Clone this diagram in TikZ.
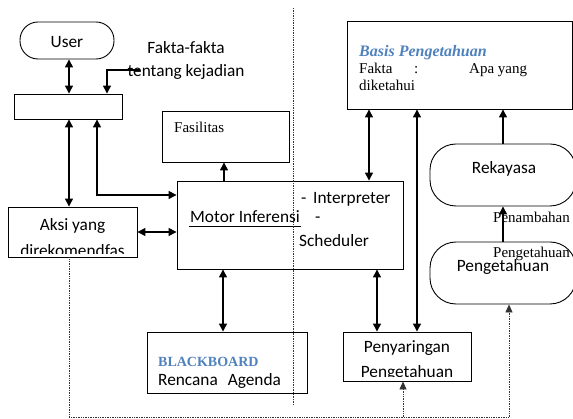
\documentclass[tikz,border=0pt]{standalone}
\usepackage{fontspec}
\setmainfont{Liberation Serif}
\newfontfamily\calib{Carlito}
\usetikzlibrary{arrows.meta,calc}
\definecolor{hblue}{HTML}{4F81BD}
\begin{document}
\begin{tikzpicture}[x=1pt,y=-1pt,
  box/.style={draw,line width=0.9pt,inner sep=0pt},
  pill/.style={draw,line width=0.9pt,inner sep=0pt,rounded corners=20pt},
  arr/.style={line width=1.3pt,-{Triangle[length=8pt,width=8pt]}},
  dbl/.style={line width=1.3pt,{Triangle[length=8pt,width=8pt]}-{Triangle[length=8pt,width=8pt]}},
  dot/.style={line width=0.7pt,densely dotted,black!80},
  dotarr/.style={dot,-{Triangle[length=8pt,width=7pt]}},
  sans/.style={font=\calib\fontsize{17.3}{19}\selectfont,inner sep=0pt},
  serif/.style={font=\fontsize{15}{17}\selectfont,inner sep=0pt}]
\useasboundingbox (0,0) rectangle (573,419);

% boxes
\node[pill,minimum width=94pt,minimum height=37pt,rounded corners=18pt] (user) at (67,40.5) {};
\node[box,minimum width=108pt,minimum height=25pt] (mid) at (68,106.5) {};
\node[box,minimum width=127pt,minimum height=51pt] (fas) at (225.5,136.5) {};
\node[box,minimum width=226pt,minimum height=88pt] (motor) at (290,225) {};
\node[box,minimum width=129pt,minimum height=50pt] (aksi) at (72.5,232) {};
\node[box,minimum width=160pt,minimum height=61pt] (bb) at (227,362.5) {};
\node[box,minimum width=128pt,minimum height=49pt] (peny) at (407,356.5) {};
\node[box,minimum width=225pt,minimum height=88pt] (basis) at (459.5,65) {};
\node[pill,minimum width=146pt,minimum height=62pt,rounded corners=26pt] (rek) at (503,175) {};
\node[pill,minimum width=146pt,minimum height=62pt,rounded corners=26pt] (peng) at (503,273) {};

% texts
\node[sans,anchor=base] (tuser) at (67,48) {User};
\node[sans,anchor=base] (tf1) at (186,54) {Fakta-fakta};
\node[sans,anchor=base] (tf2) at (186,77) {tentang kejadian};
\node[serif,anchor=base west] (tfas) at (174,133) {Fasilitas};
\node[sans,anchor=base] (taksi1) at (72.5,231) {Aksi yang};
\begin{scope}
  \clip (9,208) rectangle (136,254);
  \node[sans,anchor=base] (taksi2) at (72.5,257) {direkomendfas};
\end{scope}
\node[sans,anchor=base west] (tmotor) at (190,223) {Motor Inferensi};
\draw[line width=0.8pt] (189,226.5) -- (301,226.5);
\node[sans,anchor=base west] (td1) at (301,204) {-};
\node[sans,anchor=base west] (tint) at (313,204) {Interpreter};
\node[sans,anchor=base west] (td2) at (315,223) {-};
\node[sans,anchor=base west] (tsch) at (299,247) {Scheduler};
\node[font=\bfseries\fontsize{14}{16}\selectfont,text=hblue,inner sep=0pt,anchor=base west] (tbb) at (158,367) {BLACKBOARD};
\begin{scope}
  \clip (148,333) rectangle (306,388.5);
  \node[sans,anchor=base west] (trenc) at (158,386) {Rencana\hspace{10pt}Agenda};
\end{scope}
\node[sans,anchor=base] (tpeny1) at (407,353) {Penyaringan};
\begin{scope}
  \clip (344,333) rectangle (470,376.5);
  \node[sans,anchor=base] (tpeny2) at (407,378) {Pengetahuan};
\end{scope}
\node[font=\bfseries\itshape\fontsize{16}{18}\selectfont,text=hblue,inner sep=0pt,anchor=base west] (tbasis) at (359,57) {Basis Pengetahuan};
\node[serif,anchor=base west] (tfk) at (359,74) {Fakta};
\node[serif,anchor=base west] (tcol) at (414,74) {:};
\node[serif,anchor=base west] (tapa) at (469,74) {Apa yang};
\node[serif,anchor=base west] (tdik) at (359,91) {diketahui};
\node[sans,anchor=base] (trek) at (504,174) {Rekayasa};
\node[sans,anchor=base] (tpeng) at (503,272) {Pengetahuan};
\node[serif,anchor=base west] (tpen1) at (493,223) {Penambahan};
\node[serif,anchor=base west] (tpen2) at (493,258) {Pengetahuan};

% coordinates
\coordinate (fk0) at (140,70);
\coordinate (fk1) at (107,70);
\coordinate (m97) at (97,195);
\coordinate (d1) at (69,417);
\coordinate (d2) at (509,417);
\coordinate (d3) at (403,417);
\coordinate (v1) at (293,8);
\coordinate (v2) at (293,405);

% connectors
\draw[dbl] ([xshift=2pt]user.south) -- ([xshift=2pt]user.south |- mid.north);
\draw[arr] (fk0) -- (fk1) -- (fk1 |- mid.north);
\draw[dbl] ([xshift=1pt]mid.south) -- ([xshift=1pt]mid.south |- aksi.north);
\draw[dbl] ([xshift=29pt]mid.south) |- (m97 -| motor.west);
\draw[arr] ([xshift=-1.5pt]fas.south |- motor.north) -- ([xshift=-1.5pt]fas.south);
\draw[dbl] (aksi.east) -- (aksi.east -| motor.west);
\draw[dbl] ([xshift=-4pt]bb.north |- motor.south) -- ([xshift=-4pt]bb.north);
\draw[dbl] ([xshift=-30pt]peny.north |- motor.south) -- ([xshift=-30pt]peny.north);
\draw[dbl] ([xshift=-90.5pt]basis.south) -- ([xshift=-90.5pt]basis.south |- motor.north);
\draw[dbl] ([xshift=10pt]peny.north) -- ([xshift=10pt]peny.north |- basis.south);
\draw[arr] (rek.north) -- (rek.north |- basis.south);
\draw[arr] (peng.north) -- (rek.south);

% dotted
\draw[dot] (v1) -- (v2);
\draw[dot] (aksi.south -| d1) -- (d1) -- (d2);
\draw[dotarr] (d2) -- (d2 |- peng.south);
\draw[dotarr] (d3) -- (d3 |- peny.south);
\end{tikzpicture}
\end{document}
